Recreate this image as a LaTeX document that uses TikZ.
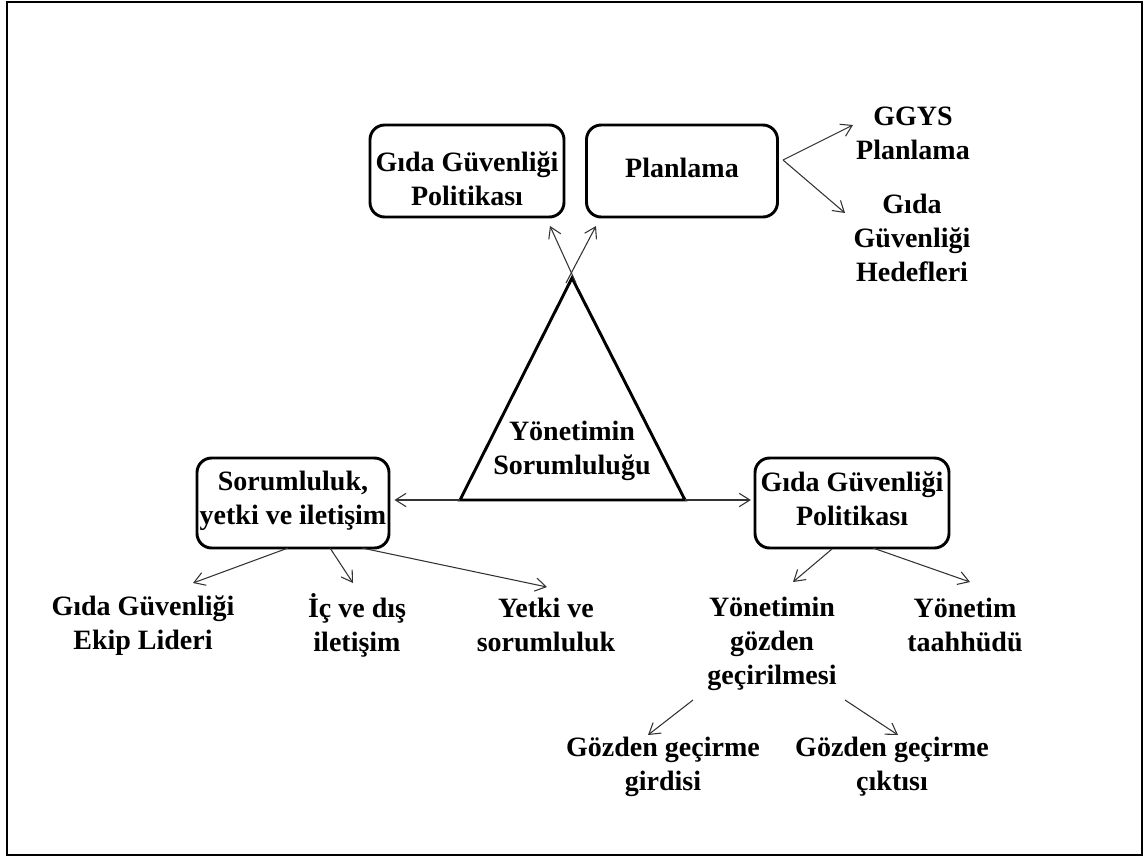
\documentclass[tikz,border=0pt]{standalone}
\usepackage{fontspec}
\setmainfont{Liberation Serif}
\usetikzlibrary{arrows.meta}
\begin{document}
\begin{tikzpicture}[x=0.75pt,y=-0.75pt,
  every node/.style={font=\fontsize{21pt}{25.5pt}\selectfont\bfseries, align=center, inner sep=0pt},
  box/.style={draw, line width=2.2pt, rounded corners=11pt},
  conn/.style={draw=black!80, line width=0.8pt, -{Straight Barb[length=8pt,width=10pt]}}
]
\useasboundingbox (0,0) rectangle (1144,858);
\draw[line width=1.5pt] (7,2) rectangle (1142,855);

% boxes
\node[box, minimum width=145.5pt, minimum height=69pt,
  label={[name=b1t, yshift=-6pt]center:G\i da Güvenliği\\Politikası}] (b1) at (467,171) {};
\node[box, minimum width=143.25pt, minimum height=69pt,
  label={[name=b2t, yshift=2pt]center:Planlama}] (b2) at (682,171) {};
\node[box, minimum width=144pt, minimum height=67.5pt,
  label={[name=b3t, yshift=2pt]center:Sorumluluk,\\yetki ve iletişim}] (b3) at (293,503) {};
\node[box, minimum width=145.5pt, minimum height=67.5pt,
  label={[name=b4t, yshift=3pt]center:G\i da Güvenliği\\Politikası}] (b4) at (852,503) {};

% triangle
\coordinate (apex) at (572,278);
\coordinate (tl) at (460,500);
\coordinate (tr) at (685,500);
\draw[line width=2.2pt, line join=miter] (apex) -- (tl) -- (tr) -- cycle;
\node (tri) at (572,451) {Yönetimin\\Sorumluluğu};

% leaf texts
\node (ggys) at (913,133) {GGYS\\Planlama};
\node (hedef) at (912,238) {G\i da\\Güvenliği\\Hedefleri};
\node (ekip) at (143,626) {G\i da Güvenliği\\Ekip Lideri};
\node (ic) at (357,625) {İç ve d\i ş\\iletişim};
\node (yetki) at (546,625) {Yetki ve\\sorumluluk};
\node (ygg) at (772,644) {Yönetimin\\gözden\\geçirilmesi};
\node (yt) at (965,625) {Yönetim\\taahhüdü};
\node (girdi) at (663,767) {Gözden geçirme\\girdisi};
\node (cikti) at (892,767) {Gözden geçirme\\ç\i kt\i s\i};

% connector coordinates
\coordinate (s1) at (576,283);
\coordinate (e1) at (550,226);
\coordinate (s2) at (566,283);
\coordinate (e2) at (596,226);
\coordinate (p0) at (783,160);
\coordinate (pe1) at (853,125);
\coordinate (pe2) at (845,213);
\coordinate (l1s) at (288,548);
\coordinate (l1e) at (193,583);
\coordinate (l2s) at (330,548);
\coordinate (l2e) at (353,583);
\coordinate (l3s) at (362,548);
\coordinate (l3e) at (547,587);
\coordinate (r1s) at (832,549);
\coordinate (r1e) at (793,582);
\coordinate (r2s) at (873,548);
\coordinate (r2e) at (970,582);
\coordinate (g1s) at (693,700);
\coordinate (g1e) at (648,735);
\coordinate (g2s) at (845,700);
\coordinate (g2e) at (898,735);

\draw[conn] (s1) -- (e1);
\draw[conn] (s2) -- (e2);
\draw[conn] (p0) -- (pe1);
\draw[conn] (p0) -- (pe2);
\draw[conn] (tl) -- ([xshift=3pt]tl -| b3.east);
\draw[conn] (tr) -- ([xshift=-2pt]tr -| b4.west);
\draw[conn] (l1s) -- (l1e);
\draw[conn] (l2s) -- (l2e);
\draw[conn] (l3s) -- (l3e);
\draw[conn] (r1s) -- (r1e);
\draw[conn] (r2s) -- (r2e);
\draw[conn] (g1s) -- (g1e);
\draw[conn] (g2s) -- (g2e);
\end{tikzpicture}
\end{document}
